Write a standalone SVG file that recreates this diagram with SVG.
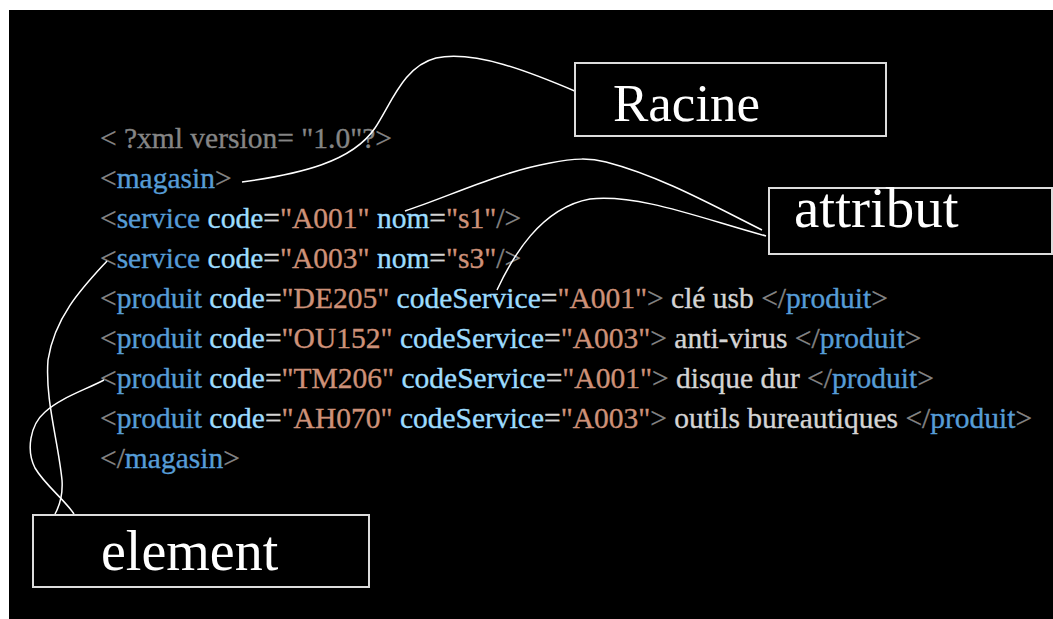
<svg xmlns="http://www.w3.org/2000/svg" width="1053" height="619" viewBox="0 0 1053 619">
<style>
text{font-family:"Liberation Serif","Times New Roman",serif}
.code{font-size:29.5px;stroke-width:0.35}
.br{fill:#858585;stroke:#858585}
.tg{fill:#569cd6;stroke:#569cd6}
.at{fill:#9cdcfe;stroke:#9cdcfe}
.eq{fill:#d4d4d4;stroke:#d4d4d4}
.va{fill:#ce9178;stroke:#ce9178}
.tx{fill:#d4d4d4;stroke:#d4d4d4}
.box{fill:#000;stroke:#dcdcdc;stroke-width:2}
.lbl{fill:#fff}
.con{fill:none;stroke:#fff;stroke-width:1.5}
</style>
<rect x="0" y="0" width="1053" height="619" fill="#fff"/>
<rect x="9" y="10" width="1044" height="609" fill="#000"/>
<g id="code">
<text class="code" x="100" y="148"><tspan class="br">&lt; ?xml version= "1.0"?&gt;</tspan></text>
<text class="code" x="100" y="188"><tspan class="br">&lt;</tspan><tspan class="tg">magasin</tspan><tspan class="br">&gt;</tspan></text>
<text class="code" x="100" y="228"><tspan class="br">&lt;</tspan><tspan class="tg">service</tspan> <tspan class="at">code</tspan><tspan class="eq">=</tspan><tspan class="va">"A001"</tspan> <tspan class="at">nom</tspan><tspan class="eq">=</tspan><tspan class="va">"s1"</tspan><tspan class="br">/&gt;</tspan></text>
<text class="code" x="100" y="268"><tspan class="br">&lt;</tspan><tspan class="tg">service</tspan> <tspan class="at">code</tspan><tspan class="eq">=</tspan><tspan class="va">"A003"</tspan> <tspan class="at">nom</tspan><tspan class="eq">=</tspan><tspan class="va">"s3"</tspan><tspan class="br">/&gt;</tspan></text>
<text class="code" x="100" y="308"><tspan class="br">&lt;</tspan><tspan class="tg">produit</tspan> <tspan class="at">code</tspan><tspan class="eq">=</tspan><tspan class="va">"DE205"</tspan> <tspan class="at">codeService</tspan><tspan class="eq">=</tspan><tspan class="va">"A001"</tspan><tspan class="br">&gt;</tspan><tspan class="tx"> clé usb </tspan><tspan class="br">&lt;/</tspan><tspan class="tg">produit</tspan><tspan class="br">&gt;</tspan></text>
<text class="code" x="100" y="348"><tspan class="br">&lt;</tspan><tspan class="tg">produit</tspan> <tspan class="at">code</tspan><tspan class="eq">=</tspan><tspan class="va">"OU152"</tspan> <tspan class="at">codeService</tspan><tspan class="eq">=</tspan><tspan class="va">"A003"</tspan><tspan class="br">&gt;</tspan><tspan class="tx"> anti-virus </tspan><tspan class="br">&lt;/</tspan><tspan class="tg">produit</tspan><tspan class="br">&gt;</tspan></text>
<text class="code" x="100" y="388"><tspan class="br">&lt;</tspan><tspan class="tg">produit</tspan> <tspan class="at">code</tspan><tspan class="eq">=</tspan><tspan class="va">"TM206"</tspan> <tspan class="at">codeService</tspan><tspan class="eq">=</tspan><tspan class="va">"A001"</tspan><tspan class="br">&gt;</tspan><tspan class="tx"> disque dur </tspan><tspan class="br">&lt;/</tspan><tspan class="tg">produit</tspan><tspan class="br">&gt;</tspan></text>
<text class="code" x="100" y="428"><tspan class="br">&lt;</tspan><tspan class="tg">produit</tspan> <tspan class="at">code</tspan><tspan class="eq">=</tspan><tspan class="va">"AH070"</tspan> <tspan class="at">codeService</tspan><tspan class="eq">=</tspan><tspan class="va">"A003"</tspan><tspan class="br">&gt;</tspan><tspan class="tx"> outils bureautiques </tspan><tspan class="br">&lt;/</tspan><tspan class="tg">produit</tspan><tspan class="br">&gt;</tspan></text>
<text class="code" x="100" y="468"><tspan class="br">&lt;/</tspan><tspan class="tg">magasin</tspan><tspan class="br">&gt;</tspan></text>
</g>
<g id="connectors">
<path class="con" d="M242,182 C300,174 352,162 375,128 C392,102 404,66 436,58 C475,50 530,72 577,92"/>
<path class="con" d="M405,211 C450,196 500,172 550,163 C575,158 590,158 606,162 C660,176 712,205 762,230"/>
<path class="con" d="M497,290 C512,258 540,208 590,199 C640,194 700,218 766,236"/>
<path class="con" d="M107,261 C85,285 55,315 48,360 C45,400 58,440 62,480 C63,495 60,505 55,514"/>
<path class="con" d="M104,380 C85,390 60,398 45,412 C30,425 26,450 35,468 C45,485 65,500 74,514"/>
</g>
<g id="racine">
<rect class="box" x="575" y="63" width="311" height="73"/>
<text class="lbl" x="613" y="121" font-size="53">Racine</text>
</g>
<g id="attribut">
<rect class="box" x="769" y="188" width="283" height="66"/>
<text class="lbl" x="794" y="227" font-size="57">attribut</text>
</g>
<g id="element">
<rect class="box" x="33" y="515" width="336" height="72"/>
<text class="lbl" x="101" y="570" font-size="56">element</text>
</g>
</svg>
